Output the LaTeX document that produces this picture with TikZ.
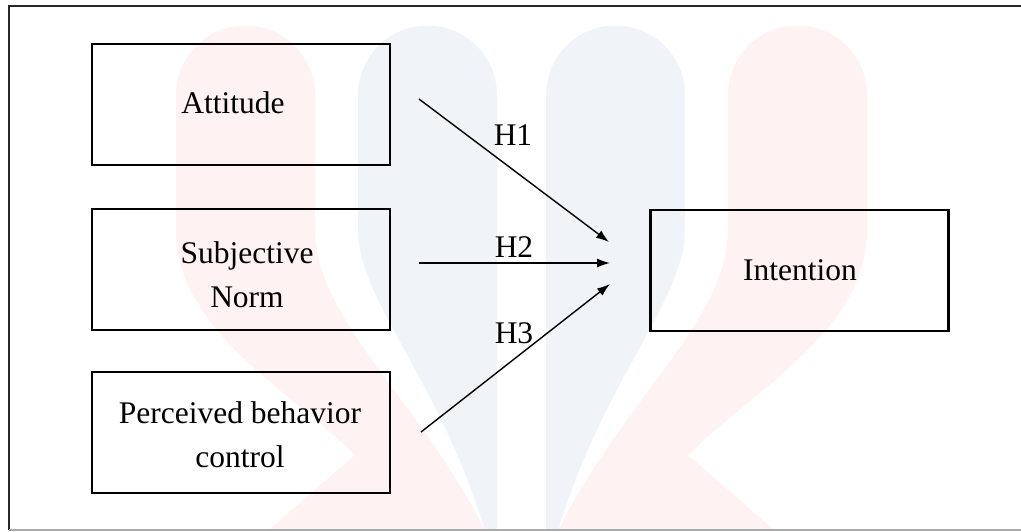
\documentclass[tikz,border=0pt]{standalone}
\usepackage{fontspec}
\setmainfont{Liberation Serif}
\usetikzlibrary{arrows.meta}
\definecolor{wmpink}{RGB}{254,242,242}
\definecolor{wmblue}{RGB}{240,244,248}
\definecolor{framecol}{RGB}{40,40,40}
\definecolor{bottomcol}{RGB}{170,170,170}
\tikzset{
  box/.style={draw=black, line width=2.5pt, minimum width=298pt, minimum height=121pt, inner sep=0pt},
  lbl/.style={font=\fontsize{31.5}{44}\selectfont, inner sep=0pt, align=center, text=black},
  hyp/.style={font=\fontsize{31.5}{38}\selectfont, inner sep=0pt, text=black},
  arr/.style={line width=1.4pt, -{Latex[length=13pt,width=9pt]}},
}
\begin{document}
\begin{tikzpicture}[x=1pt,y=-1pt]
\useasboundingbox (0,0) rectangle (1021,531);
\fill[white] (0,0) rectangle (1021,531);
% watermark
\fill[wmpink] (176,230) -- (176,95) .. controls (176,56.6) and (207.1,25.5) .. (245.5,25.5) .. controls (283.9,25.5) and (315,56.6) .. (315,95) -- (315,230) .. controls (315,320) and (420,400) .. (485,531) -- (268,531) -- (355,455) .. controls (290,390) and (176,330) .. (176,230) -- cycle;
\fill[wmpink] (867,230) -- (867,95) .. controls (867,56.6) and (835.9,25.5) .. (797.5,25.5) .. controls (759.1,25.5) and (728,56.6) .. (728,95) -- (728,230) .. controls (728,320) and (623,400) .. (558,531) -- (775,531) -- (688,455) .. controls (753,390) and (867,330) .. (867,230) -- cycle;
\fill[wmblue] (358,230) -- (358,95) .. controls (358,56.6) and (389.1,25.5) .. (427.5,25.5) .. controls (465.9,25.5) and (497,56.6) .. (497,95) -- (497,531) -- (485,531) .. controls (440,380) and (358,300) .. (358,230) -- cycle;
\fill[wmblue] (685,230) -- (685,95) .. controls (685,56.6) and (653.9,25.5) .. (615.5,25.5) .. controls (577.1,25.5) and (546,56.6) .. (546,95) -- (546,531) -- (558,531) .. controls (603,380) and (685,300) .. (685,230) -- cycle;
% frame
\draw[framecol, line width=2pt] (1021,6) -- (9,6) -- (9,530);
\draw[bottomcol, line width=1.5pt] (9,530) -- (1021,530);
% boxes
\node[box] (att) at (241,104.5) {};
\node[box] (sn)  at (241,269.5) {};
\node[box] (pbc) at (241,432.5) {};
\node[box] (int) at (799.5,270.5) {};
\node[lbl, anchor=base] (attt) at (233,113) {Attitude};
\node[lbl, anchor=base] (snt1) at (247,263) {Subjective};
\node[lbl, anchor=base] (snt2) at (247,307) {Norm};
\node[lbl, anchor=base] (pbct1) at (240,423) {Perceived behavior};
\node[lbl, anchor=base] (pbct2) at (240,467) {control};
\node[lbl, anchor=base] (intt) at (800,280) {Intention};
% connectors
\coordinate (s1) at (419,99);
\coordinate (s2) at (419,263);
\coordinate (s3) at (421,432);
\coordinate (e1) at (609,242);
\coordinate (e2) at (610,263);
\coordinate (e3) at (610,284);
\draw[arr] (s1) -- (e1);
\draw[arr] (s2) -- (e2);
\draw[arr] (s3) -- (e3);
\node[hyp, anchor=base] (h1) at (513,145) {H1};
\node[hyp, anchor=base] (h2) at (514,257) {H2};
\node[hyp, anchor=base] (h3) at (514,343) {H3};
\end{tikzpicture}
\end{document}
